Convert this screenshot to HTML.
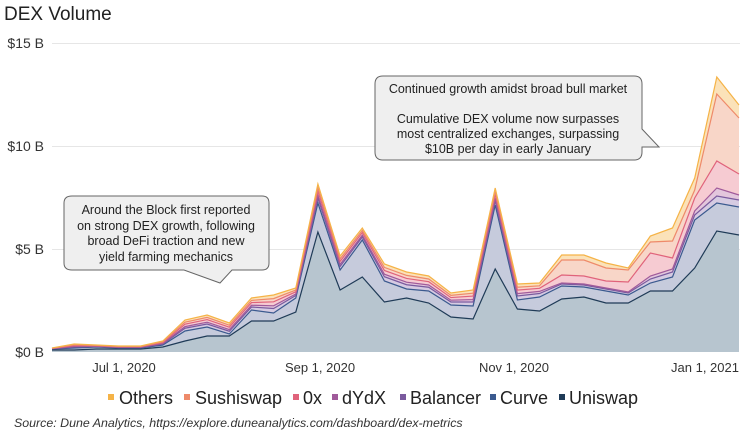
<!DOCTYPE html>
<html><head><meta charset="utf-8"><style>
body{margin:0;background:#fff;width:750px;height:435px;overflow:hidden;font-family:"Liberation Sans",Arial,sans-serif}
svg text{font-family:"Liberation Sans",Arial,sans-serif}
</style></head><body>
<svg id="s" width="750" height="435" xmlns="http://www.w3.org/2000/svg">
<text x="4" y="20" font-size="19" fill="#222">DEX Volume</text>
<g stroke="#e6e6e6" stroke-width="1">
<line x1="52" y1="43.5" x2="740" y2="43.5"/><line x1="52" y1="146.5" x2="740" y2="146.5"/><line x1="52" y1="249.5" x2="740" y2="249.5"/>
</g>
<g font-size="14" fill="#333" text-anchor="end">
<text x="44" y="48">$15 B</text><text x="44" y="151">$10 B</text><text x="44" y="254">$5 B</text><text x="44" y="357">$0 B</text>
</g>
<g id="layers"></g>
<g font-size="13" fill="#333" text-anchor="middle">
<text x="124" y="372">Jul 1, 2020</text><text x="320" y="372">Sep 1, 2020</text><text x="514" y="372">Nov 1, 2020</text><text x="705" y="372">Jan 1, 2021</text>
</g>
<path d="M72,196 H262 Q269,196 269,203 V263 Q269,270 262,270 H232 L220,283 L184,270 H72 Q64,270 64,263 V203 Q64,196 72,196 Z" fill="#efefef" stroke="#666" stroke-width="1"/>
<g font-size="12.5" fill="#222" text-anchor="middle">
<text x="166" y="214">Around the Block first reported</text>
<text x="166" y="230">on strong DEX growth, following</text>
<text x="166" y="245">broad DeFi traction and new</text>
<text x="166" y="261">yield farming mechanics</text>
</g>
<path d="M383,76 H634 Q642,76 642,84 V129 L659,147 L642,147 V152 Q642,160 634,160 H383 Q375,160 375,152 V84 Q375,76 383,76 Z" fill="#efefef" stroke="#666" stroke-width="1"/>
<g font-size="12.5" fill="#222" text-anchor="middle">
<text x="508" y="93">Continued growth amidst broad bull market</text>
<text x="508" y="123">Cumulative DEX volume now surpasses</text>
<text x="508" y="138">most centralized exchanges, surpassing</text>
<text x="508" y="153">$10B per day in early January</text>
</g>
<g font-size="18" fill="#222">
<rect x="108" y="394" width="6" height="6" fill="#f5b347"/><text x="119" y="404">Others</text>
<rect x="184" y="394" width="6" height="6" fill="#ee8a6a"/><text x="195" y="404">Sushiswap</text>
<rect x="293" y="394" width="6" height="6" fill="#e0637b"/><text x="303" y="404">0x</text>
<rect x="332" y="394" width="6" height="6" fill="#a05a9a"/><text x="342" y="404">dYdX</text>
<rect x="400" y="394" width="6" height="6" fill="#7a5a9e"/><text x="410" y="404">Balancer</text>
<rect x="490" y="394" width="6" height="6" fill="#3b5a8f"/><text x="500" y="404">Curve</text>
<rect x="559" y="394" width="6" height="6" fill="#1f3b57"/><text x="569" y="404">Uniswap</text>
</g>
<text x="14" y="427" font-size="12.4" font-style="italic" fill="#333">Source: Dune Analytics, https://explore.duneanalytics.com/dashboard/dex-metrics</text>
</svg>
<script>
var uni=[350,350,349,349,349,347,341,336,336,321,321,312,232,290,277,302,298,303,317,319,269,309,311,299,297,303,303,291,291,268,231,235];
var cur=[349,348,347,348,348,345,331,327,334,310,313,298,203,270,240,281,289,291,305,306,205,300,297,286,287,291,295,283,277,220,203,207];
var top_=[348,344,345,346,346,341,320,315,323,298,295,288,184,256,228,264,272,276,293,290,188,284,283,255,255,263,268,236,228,178,77,105];
var man={23:[284,283,275,260],24:[285,284,276,260],25:[289,288,281,268],26:[293,292,282,270],27:[279,276,253,242],28:[272,269,258,241],29:[215,211,198,190],30:[196,188,161,94],31:[200,195,174,118]};
var n=32,X=[];for(var i=0;i<n;i++)X.push(52+i*(687/31));
var L=[uni,cur,[],[],[],[],top_];
for(var i=0;i<n;i++){var c=cur[i],t=top_[i],g=c-t;
 var m=man[i]||[c-g*0.25,c-g*0.4,c-g*0.62,c-g*0.8];
 for(var k=0;k<4;k++)L[2+k][i]=m[k];}
var fills=['#b7c5cf','#c6cbdc','#d6cbe2','#e3c6dc','#f6cbd2','#f8d6c8','#fbe2b9'];
var strokes=['#1f3b57','#3b5a8f','#7a5a9e','#a05a9a','#e0637b','#ee8a6a','#f5b347'];
var g=document.getElementById('layers'),h='';
for(var k=6;k>=0;k--){var d='M'+X[0]+',352';for(var i=0;i<n;i++)d+=' L'+X[i].toFixed(1)+','+L[k][i];d+=' L'+X[n-1]+',352 Z';
 h+='<path d="'+d+'" fill="'+fills[k]+'"/>';}
for(var k=0;k<7;k++){var d='';for(var i=0;i<n;i++)d+=(i?' L':'M')+X[i].toFixed(1)+','+L[k][i];
 h+='<path d="'+d+'" fill="none" stroke="'+strokes[k]+'" stroke-width="1.2"/>';}
g.innerHTML=h;
</script>
</body></html>
